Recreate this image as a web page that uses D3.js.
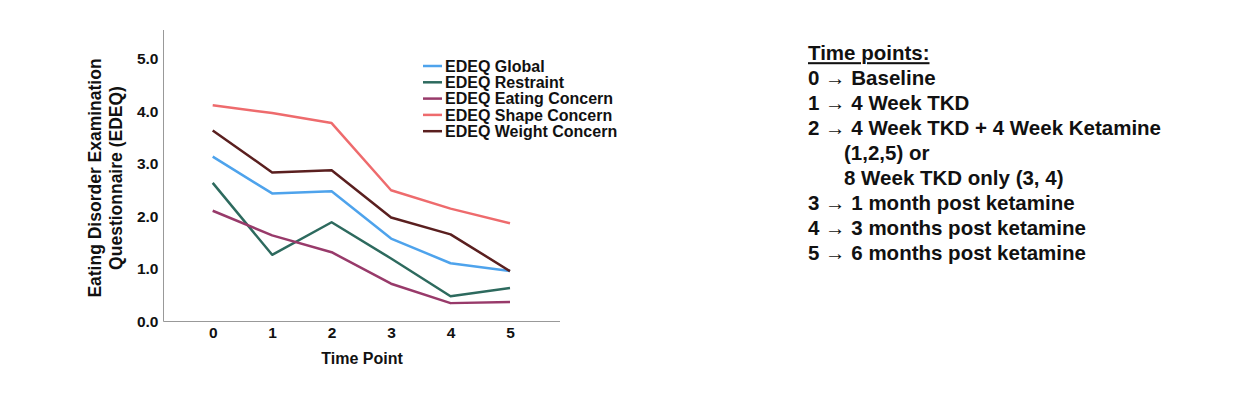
<!DOCTYPE html>
<html><head><meta charset="utf-8">
<script src="https://cdn.jsdelivr.net/npm/d3@7"></script>
<style>
html,body{margin:0;padding:0;background:#fff;}
svg{display:block;font-family:"Liberation Sans",Arial,Helvetica,sans-serif;}
</style></head>
<body><svg id="c" width="1250" height="410"></svg>
<script>
const timePoints = [0, 1, 2, 3, 4, 5];
const seriesNames = ["EDEQ Global", "EDEQ Restraint", "EDEQ Eating Concern", "EDEQ Shape Concern", "EDEQ Weight Concern"];
const globalVals    = [3.14, 2.44, 2.48, 1.58, 1.11, 0.96];
const restraintVals = [2.64, 1.27, 1.89, 1.20, 0.48, 0.64];
const eatingVals    = [2.11, 1.64, 1.32, 0.72, 0.35, 0.37];
const shapeVals     = [4.12, 3.97, 3.78, 2.50, 2.15, 1.87];
const weightVals    = [3.64, 2.84, 2.88, 1.98, 1.66, 0.96];
const colors = ["#4ea3ec", "#2d6a5e", "#983a6a", "#ee6b6d", "#5a1f1f"];
const yTicks = [0, 1, 2, 3, 4, 5];
const notesTitle = "Time points:";
const notes = [
  {t:"0 \u2192 Baseline", indent:false},
  {t:"1 \u2192 4 Week TKD", indent:false},
  {t:"2 \u2192 4 Week TKD + 4 Week Ketamine", indent:false},
  {t:"(1,2,5) or", indent:true},
  {t:"8 Week TKD only (3, 4)", indent:true},
  {t:"3 \u2192 1 month post ketamine", indent:false},
  {t:"4 \u2192 3 months post ketamine", indent:false},
  {t:"5 \u2192 6 months post ketamine", indent:false}
];

const allVals = [globalVals, restraintVals, eatingVals, shapeVals, weightVals];
const svg = d3.select("#c");

const x = d3.scaleLinear().domain([0, 5]).range([212.7, 510]);
const y = d3.scaleLinear().domain([0, 5]).range([321.5, 59]);

// axes lines
svg.append("line").attr("x1",163.5).attr("x2",163.5).attr("y1",30).attr("y2",321.5)
  .attr("stroke","#999").attr("stroke-width",1);
svg.append("line").attr("x1",163.5).attr("x2",560).attr("y1",321.5).attr("y2",321.5)
  .attr("stroke","#999").attr("stroke-width",1);

// y ticks
const yAxis = d3.axisLeft(y).tickValues(yTicks).tickFormat(d3.format(".1f")).tickSize(0).tickPadding(5);
const gy = svg.append("g").attr("transform","translate(163.5,0)").call(yAxis);
gy.select(".domain").remove();
gy.selectAll("text").attr("font-size",15.5).attr("font-weight","bold").attr("fill","#111")
  .attr("font-family","Liberation Sans, Arial, sans-serif");

// x ticks
const xAxis = d3.axisBottom(x).tickValues(timePoints).tickFormat(d3.format("d")).tickSize(0).tickPadding(5);
const gx = svg.append("g").attr("transform","translate(0,321.5)").call(xAxis);
gx.select(".domain").remove();
gx.selectAll("text").attr("font-size",15.5).attr("font-weight","bold").attr("fill","#111")
  .attr("font-family","Liberation Sans, Arial, sans-serif");

// axis titles
svg.append("text").attr("x",362).attr("y",358).attr("dy","0.35em").attr("text-anchor","middle")
  .attr("font-size",16).attr("font-weight","bold").attr("fill","#111").text("Time Point");
const yt = svg.append("text").attr("transform","translate(95,178) rotate(-90)")
  .attr("text-anchor","middle").attr("font-size",17.5).attr("font-weight","bold").attr("fill","#111");
yt.append("tspan").attr("x",0).attr("y",0).attr("dy","0.35em").text("Eating Disorder Examination");
yt.append("tspan").attr("x",0).attr("y",21).attr("dy","0.35em").text("Questionnaire (EDEQ)");

// lines
const line = d3.line().x((d,i)=>x(timePoints[i])).y(d=>y(d));
allVals.forEach((vals,k)=>{
  svg.append("path").datum(vals).attr("d",line).attr("fill","none")
    .attr("stroke",colors[k]).attr("stroke-width",2.5).attr("stroke-linejoin","round");
});

// legend
const lg = svg.append("g");
seriesNames.forEach((n,k)=>{
  const yy = 66 + k*16.3;
  lg.append("line").attr("x1",423).attr("x2",442).attr("y1",yy).attr("y2",yy)
    .attr("stroke",colors[k]).attr("stroke-width",2.5);
  lg.append("text").attr("x",445).attr("y",yy).attr("dy","0.35em")
    .attr("font-size",16).attr("font-weight","bold").attr("fill","#111").text(n);
});

// notes
const ng = svg.append("g");
ng.append("text").attr("x",808).attr("y",53).attr("dy","0.35em")
  .attr("font-size",20.5).attr("font-weight","bold").attr("fill","#111")
  .attr("text-decoration","underline").text(notesTitle);
notes.forEach((n,i)=>{
  ng.append("text").attr("x", n.indent ? 844 : 808).attr("y",78 + i*25).attr("dy","0.35em")
    .attr("font-size",20.5).attr("font-weight","bold").attr("fill","#111").text(n.t);
});
</script></body></html>
